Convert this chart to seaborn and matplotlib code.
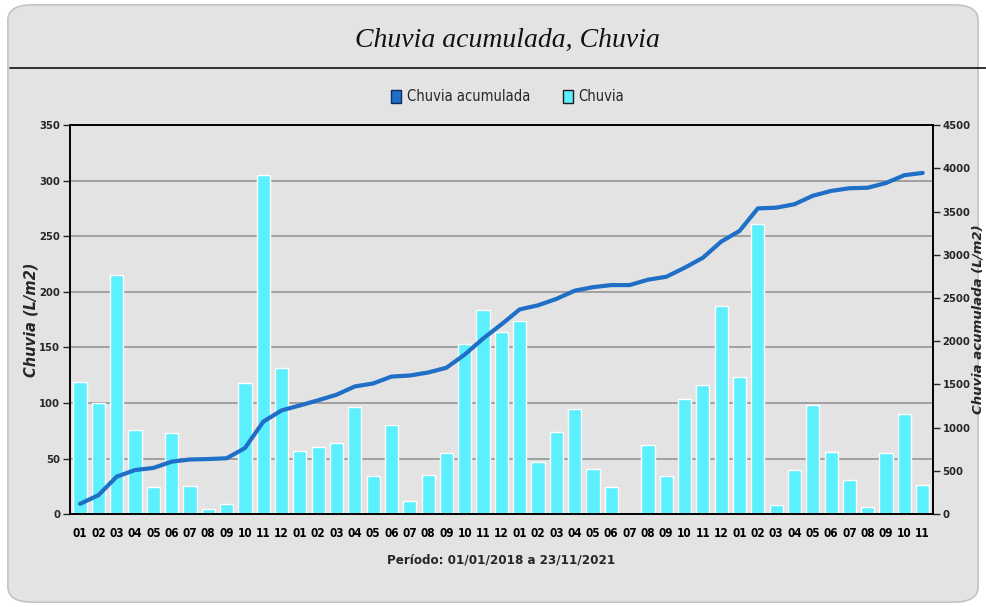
import numpy as np
import pandas as pd
import seaborn as sns
import matplotlib
matplotlib.use("Agg")
from matplotlib import pyplot as plt
from matplotlib import font_manager
from matplotlib.patches import Patch, FancyBboxPatch
from matplotlib.lines import Line2D

# Monthly rain, 01/2018 .. 11/2021 (L/m2)
meses = ["01", "02", "03", "04", "05", "06", "07", "08", "09", "10", "11", "12"] * 3 + \
        ["01", "02", "03", "04", "05", "06", "07", "08", "09", "10", "11"]
anos = [2018] * 12 + [2019] * 12 + [2020] * 12 + [2021] * 11
chuvia = [119, 100, 215, 76, 24, 73, 25, 5, 9, 118, 305, 131,
          57, 60, 64, 96, 34, 80, 12, 35, 55, 153, 184, 164,
          174, 47, 74, 95, 41, 24, 0, 62, 34, 104, 116, 187,
          123, 261, 8, 40, 98, 56, 31, 6, 55, 90, 26]
chuvia_acumulada = [119, 219, 434, 510, 534, 607, 632, 637, 646, 764, 1069, 1200,
                    1257, 1317, 1381, 1477, 1511, 1591, 1603, 1638, 1693, 1846, 2030, 2194,
                    2368, 2415, 2489, 2584, 2625, 2649, 2649, 2711, 2745, 2849, 2965, 3152,
                    3275, 3536, 3544, 3584, 3682, 3738, 3769, 3775, 3830, 3920, 3946]

df = pd.DataFrame({
    "periodo": [f"{a}-{m}" for a, m in zip(anos, meses)],
    "mes": meses,
    "chuvia": chuvia,
    "acumulada": chuvia_acumulada,
})
df["pos"] = np.arange(len(df))

COR_BARRA = "#5cf0fe"
COR_LINHA = "#1f6fc6"
BG = "#e3e3e3"

sns.set_style("white")
plt.rcParams["font.family"] = ["DejaVu Sans"]
plt.rcParams["font.stretch"] = "condensed"

# narrow bold font for the tick labels (like Arial Narrow)
fp_tick = font_manager.FontProperties(family="DejaVu Sans", stretch="condensed",
                                      weight="bold", size=8.5)
fp_y = font_manager.FontProperties(family="DejaVu Sans", stretch="condensed",
                                   weight="bold", size=8)

fig = plt.figure(figsize=(9.86, 6.07), dpi=100)
fig.patch.set_facecolor("white")
# rounded metallic panel
fig.add_artist(FancyBboxPatch((0.008, 0.008), 0.984, 0.984,
                              boxstyle="round,pad=0,rounding_size=0.025",
                              transform=fig.transFigure, facecolor=BG,
                              edgecolor="#c4c4c4", lw=1.2, zorder=-10))

ax = fig.add_axes([0.071, 0.153, 0.875, 0.641])
ax.set_facecolor("none")
sns.barplot(data=df, x="periodo", y="chuvia", color=COR_BARRA, saturation=1,
            width=0.72, ax=ax, zorder=2)
ax.set_ylim(0, 350)
ax.set_yticks(range(0, 351, 50))
ax.set_xlim(-0.55, len(df) - 0.45)
ax.set_xticks(df["pos"])
ax.set_xticklabels(df["mes"], fontproperties=fp_tick)
ax.yaxis.grid(True, color="#9c9c9c", lw=1.3, zorder=0)
ax.set_axisbelow(True)
ax.tick_params(axis="x", length=6, width=1, direction="out", pad=3, colors="black")
ax.tick_params(axis="y", length=5, width=1, direction="out", pad=2)
for lbl in ax.get_yticklabels():
    lbl.set_fontproperties(fp_y)
ax.set_ylabel("Chuvia (L/m2)", fontsize=10.5, fontweight="bold", style="italic",
              fontstretch="normal")
ax.yaxis.set_label_coords(-0.036, 0.5)
ax.set_xlabel("Período: 01/01/2018 a 23/11/2021", fontsize=9.5, fontweight="bold",
              fontstretch="condensed", labelpad=10)
for s in ax.spines.values():
    s.set_color("black")
    s.set_linewidth(1.2)

ax2 = ax.twinx()
sns.lineplot(data=df, x="pos", y="acumulada", color=COR_LINHA, lw=3, ax=ax2)
ax2.set_ylim(0, 4500)
ax2.set_yticks(range(0, 4501, 500))
ax2.tick_params(axis="y", length=5, width=1, direction="out", pad=2)
for lbl in ax2.get_yticklabels():
    lbl.set_fontproperties(fp_y)
ax2.set_ylabel("Chuvia acumulada (L/m2)", fontsize=9.5, fontweight="bold", style="italic",
               fontstretch="normal")
ax2.yaxis.set_label_coords(1.045, 0.5)
ax2.set_xlim(-0.55, len(df) - 0.45)
for s in ax2.spines.values():
    s.set_color("black")
    s.set_linewidth(1.2)

# title and rule
fig.text(0.515, 1 - 40 / 607, "Chuvia acumulada, Chuvia", ha="center", va="center",
         fontsize=20, style="italic", family=["Liberation Serif", "DejaVu Serif"],
         color="#111111")
fig.add_artist(Line2D([0.01, 1.0], [1 - 68 / 607] * 2, color="#222222", lw=1.3,
                      transform=fig.transFigure))

handles = [Patch(facecolor=COR_LINHA, edgecolor="#0a2a60", label="Chuvia acumulada"),
           Patch(facecolor=COR_BARRA, edgecolor="#1a1a1a", label="Chuvia")]
fig.legend(handles=handles, loc="center", bbox_to_anchor=(0.515, 1 - 97 / 607), ncol=2,
           frameon=False, prop=dict(family="DejaVu Sans", stretch="condensed", size=10.5),
           handlelength=0.7, handleheight=0.9, handletextpad=0.4, columnspacing=2.2)

fig.savefig("out.png", dpi=100, facecolor=fig.get_facecolor())
